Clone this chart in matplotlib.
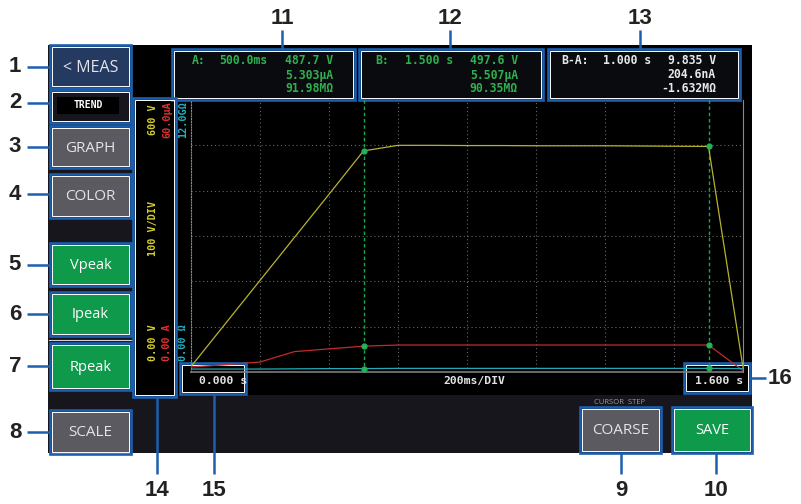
import numpy as np
import matplotlib.pyplot as plt
from matplotlib.patches import Rectangle

# Trend screen of the meter, with numbered callouts 1-16.

W, H = 801, 504

time_s = [0.0, 0.1, 0.2, 0.3, 0.4, 0.5, 0.6, 0.7, 0.8, 0.9,
          1.0, 1.1, 1.2, 1.3, 1.4, 1.5, 1.6]
volts = [12, 107, 202, 297, 392, 487.7, 500, 500, 499.5, 499.5,
         499, 499, 499, 498.5, 498, 497.6, 10]
current_ua = [1.1, 1.6, 2.2, 4.5, 5.1, 5.7, 5.95, 5.95, 5.95, 5.95,
              5.95, 5.95, 5.95, 5.95, 5.95, 5.95, 0.3]
resist_gohm = [0.13, 0.13, 0.13, 0.14, 0.15, 0.15, 0.16, 0.16, 0.16, 0.16,
               0.16, 0.16, 0.16, 0.16, 0.16, 0.16, 0.15]
cursor_a = 0.5
cursor_b = 1.5

readout_a = ['A:', '500.0ms', '487.7 V', '5.303\u03bcA', '91.98M\u03a9']
readout_b = ['B:', '1.500 s', '497.6 V', '5.507\u03bcA', '90.35M\u03a9']
readout_ba = ['B-A:', '1.000 s', '9.835 V', '204.6nA', '-1.632M\u03a9']

side_buttons = ['< MEAS', 'TREND', 'GRAPH', 'COLOR', 'Vpeak', 'Ipeak', 'Rpeak', 'SCALE']

BLUE = '#1b5fae'
DARK = '#17161c'
GREY_BTN = '#5a5a60'
GREEN_BTN = '#0f9a4b'
MONO = 'DejaVu Sans Mono'
UI = ['Open Sans', 'DejaVu Sans']
NUM = ['Liberation Sans Narrow', 'Liberation Sans', 'DejaVu Sans']

fig = plt.figure(figsize=(W / 100, H / 100), dpi=100)
bg = fig.add_axes([0, 0, 1, 1])
bg.set_xlim(0, W)
bg.set_ylim(H, 0)
bg.axis('off')


def rect(x0, y0, x1, y1, fc, ec='none', lw=0, z=1):
    bg.add_patch(Rectangle((x0, y0), x1 - x0, y1 - y0, facecolor=fc,
                           edgecolor=ec, linewidth=lw, zorder=z))


def callout(x0, y0, x1, y1):
    rect(x0, y0, x1, y1, 'none', BLUE, 1.9, z=5)
    rect(x0 + 2, y0 + 2, x1 - 2, y1 - 2, 'none', 'white', 0.7, z=5)


def button(x0, y0, x1, y1, fc, label, color='#e4e4e8', size=11):
    rect(x0 + 2, y0 + 2, x1 - 2, y1 - 2, fc, z=2)
    callout(x0, y0, x1, y1)
    bg.text((x0 + x1) / 2, (y0 + y1) / 2 + 1, label, ha='center', va='center',
            color=color, fontsize=size, family=UI, zorder=6)


def number(x, y, s):
    bg.text(x, y, s, ha='center', va='center', fontsize=16, weight='bold',
            family=NUM, color='#222222')


def lead(x0, y0, x1, y1):
    bg.plot([x0, x1], [y0, y1], color=BLUE, lw=1.8, solid_capstyle='butt')


# screen background
rect(48, 45, 752, 453, DARK)
rect(133, 45, 752, 395, 'black')

# left button column
button(50, 45, 131, 88, '#243a60', side_buttons[0], size=11.5)
rect(52, 92, 129, 121, DARK, z=2)
callout(50, 90, 131, 123)
rect(57, 97, 119, 114, 'black', z=3)
bg.text(88, 105.5, side_buttons[1], ha='center', va='center', color='white',
        fontsize=7, family=MONO, weight='bold', zorder=6)
button(50, 126, 131, 168, GREY_BTN, side_buttons[2])
button(50, 174, 131, 218, GREY_BTN, side_buttons[3])
button(50, 243, 131, 286, GREEN_BTN, side_buttons[4], 'white', 10.5)
button(50, 292, 131, 336, GREEN_BTN, side_buttons[5], 'white', 10.5)
bg.plot([49, 132], [340, 340], color='#cfcfcf', lw=0.8)
button(50, 343, 131, 390, GREEN_BTN, side_buttons[6], 'white', 10.5)
button(50, 410, 131, 454, GREY_BTN, side_buttons[7])

# bottom buttons
bg.text(619, 403, 'CURSOR  STEP', ha='center', va='center', color='#9a9a9a',
        fontsize=5.5, family=UI)
button(580, 407, 661, 453, GREY_BTN, 'COARSE')
button(672, 407, 752, 453, GREEN_BTN, 'SAVE', 'white', 10.5)

# cursor readout boxes
boxes = [(172, 355, readout_a, '#2fb04f', 192, 219, 333),
         (359, 543, readout_b, '#2fb04f', 375, 405, 518),
         (548, 740, readout_ba, '#e8e8e8', 561, 603, 716)]
for x0, x1, txt, col, xl, xt, xr in boxes:
    rect(x0 + 2, 51, x1 - 2, 98, '#0a0b0e', z=2)
    callout(x0, 49, x1, 100)
    kw = dict(color=col, fontsize=8.3, family=MONO, weight='bold', va='center', zorder=6)
    bg.text(xl, 61, txt[0], ha='left', **kw)
    bg.text(xt, 61, txt[1], ha='left', **kw)
    bg.text(xr, 61, txt[2], ha='right', **kw)
    bg.text(xr, 75, txt[3], ha='right', **kw)
    bg.text(xr, 89, txt[4], ha='right', **kw)

# vertical scale labels (box 14)
lab = dict(rotation=90, ha='center', va='center', fontsize=7.3, family=MONO, weight='bold')
bg.text(153, 120, '600 V', color='#d6cf2c', **lab)
bg.text(153, 228, '100 V/DIV', color='#d6cf2c', **lab)
bg.text(153, 343, '0.00 V', color='#d6cf2c', **lab)
bg.text(167, 120, '60.0\u03bcA', color='#e0302f', **lab)
bg.text(167, 343, '0.00 A', color='#e0302f', **lab)
bg.text(183, 120, '12.0G\u03a9', color='#22b0c0', **lab)
bg.text(183, 343, '0.00 \u03a9', color='#22b0c0', **lab)
callout(133, 98, 176, 397)

# time labels
tl = dict(va='center', fontsize=8.2, family=MONO, weight='bold', color='#e2e2e2', zorder=6)
bg.text(199, 381, '0.000 s', ha='left', **tl)
bg.text(474, 381, '200ms/DIV', ha='center', **tl)
bg.text(743, 381, '1.600 s', ha='right', **tl)
callout(180, 363, 246, 394)
callout(684, 363, 750, 393)

# numbered callouts
for y, s in [(67, '1'), (103, '2'), (147, '3'), (194, '4'),
             (265, '5'), (314, '6'), (366, '7'), (432, '8')]:
    number(15, y, s)
    lead(27, y, 50, y)
for x, s in [(282, '11'), (450, '12'), (640, '13')]:
    number(x, 18, s)
    lead(x, 30, x, 49)
for x, s, ytop in [(157, '14', 397), (214, '15', 394), (621, '9', 453), (716, '10', 453)]:
    number(x, 491, s)
    lead(x, ytop, x, 474)
number(780, 378, '16')
lead(750, 378, 766, 378)

# trend graph
ax = fig.add_axes([191 / W, 1 - 372 / H, 552 / W, 272 / H])
ax.set_facecolor('none')
ax.set_xlim(0, 1.6)
ax.set_ylim(0, 600)
ax.set_xticks(np.arange(0.2, 1.5, 0.2))
ax.set_yticks(range(100, 600, 100))
ax.grid(color='#666666', linestyle=(0, (1, 2.5)), linewidth=0.8)
ax.tick_params(length=0, labelleft=False, labelbottom=False)
ax.spines['top'].set_visible(False)
ax.spines['left'].set_color('#8a8a8a')
ax.spines['left'].set_linestyle((0, (1, 1.5)))
ax.spines['bottom'].set_color('#7c7c7c')
ax.spines['bottom'].set_linewidth(1.2)
ax.spines['right'].set_color('#8a8a8a')

ax_i = ax.twinx()
ax_i.set_ylim(0, 60)
ax_i.axis('off')
ax_r = ax.twinx()
ax_r.set_ylim(0, 12)
ax_r.axis('off')

for c in (cursor_a, cursor_b):
    ax.axvline(c, color='#1aa84c', linestyle=(0, (2.5, 2)), lw=1.0)

ax.plot(time_s, volts, color='#b8b22e', lw=0.9)
ax_i.plot(time_s, current_ua, color='#c42a2a', lw=0.9)
ax_r.plot(time_s, resist_gohm, color='#22a9b5', lw=0.9)

for c in (cursor_a, cursor_b):
    ax.plot(c, np.interp(c, time_s, volts), 'o', color='#22b455', ms=3.5)
    ax_i.plot(c, np.interp(c, time_s, current_ua), 'o', color='#22b455', ms=3.5)
    ax_r.plot(c, np.interp(c, time_s, resist_gohm), 'o', color='#22b455', ms=3.5)

fig.savefig('out.png', dpi=100)
